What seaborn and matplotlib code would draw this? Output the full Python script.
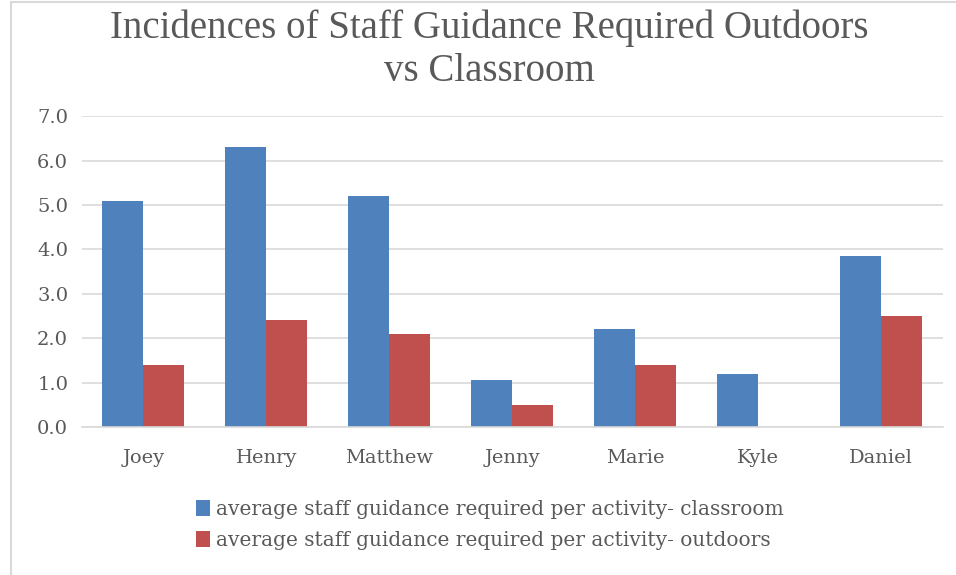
import seaborn as sns
import matplotlib.pyplot as plt
import pandas as pd

# Data
students = ['Joey', 'Henry', 'Matthew', 'Jenny', 'Marie', 'Kyle', 'Daniel']
classroom = [5.1, 6.3, 5.2, 1.05, 2.2, 1.2, 3.85]
outdoors = [1.4, 2.4, 2.1, 0.5, 1.4, 0.0, 2.5]
series = ['average staff guidance required per activity- classroom',
          'average staff guidance required per activity- outdoors']

df = pd.DataFrame({
    'student': students * 2,
    'value': classroom + outdoors,
    'series': [series[0]] * len(students) + [series[1]] * len(students),
})

sns.set_style('white')
plt.rcParams['font.family'] = ['DejaVu Serif']
txt = '#595959'

fig = plt.figure(figsize=(9.56, 5.75), dpi=100)
ax = fig.add_axes([0.0858, 0.2574, 0.9002, 0.5406])

sns.barplot(df, x='student', y='value', hue='series',
            palette=['#4F81BD', '#C0504D'], width=0.667, saturation=1,
            linewidth=0, legend=True, ax=ax)

ax.set_ylim(0, 7)
ax.set_yticks([i for i in range(8)])
ax.set_yticklabels([f'{i:.1f}' for i in range(8)])
ax.set_xlim(-0.5, 6.5)
ax.set_xlabel('')
ax.set_ylabel('')
ax.grid(axis='y', color='#d9d9d9', linewidth=1.2)
ax.set_axisbelow(True)
for s in ['top', 'right', 'left']:
    ax.spines[s].set_visible(False)
ax.spines['bottom'].set_color('#d9d9d9')
ax.spines['bottom'].set_linewidth(1.2)
ax.tick_params(axis='both', length=0, labelsize=14, colors=txt)
ax.tick_params(axis='x', pad=16)
ax.tick_params(axis='y', pad=10)

handles, labels = ax.get_legend_handles_labels()
ax.get_legend().remove()
fig.legend(handles, labels, loc='center', bbox_to_anchor=(0.512, 0.087),
           frameon=False, fontsize=14.5, labelcolor=txt, handlelength=0.7,
           handleheight=0.85, handletextpad=0.3, labelspacing=0.6)

fig.text(0.512, 0.914, 'Incidences of Staff Guidance Required Outdoors\nvs Classroom',
         ha='center', va='center', fontsize=28, color=txt, linespacing=1.2,
         family='Liberation Serif')

# chart area border (top and left edges)
fig.add_artist(plt.Line2D([0.011, 1], [0.996, 0.996], color='#d9d9d9', lw=1.5))
fig.add_artist(plt.Line2D([0.011, 0.011], [0, 0.996], color='#d9d9d9', lw=1.5))

fig.savefig('out.png', dpi=100)
